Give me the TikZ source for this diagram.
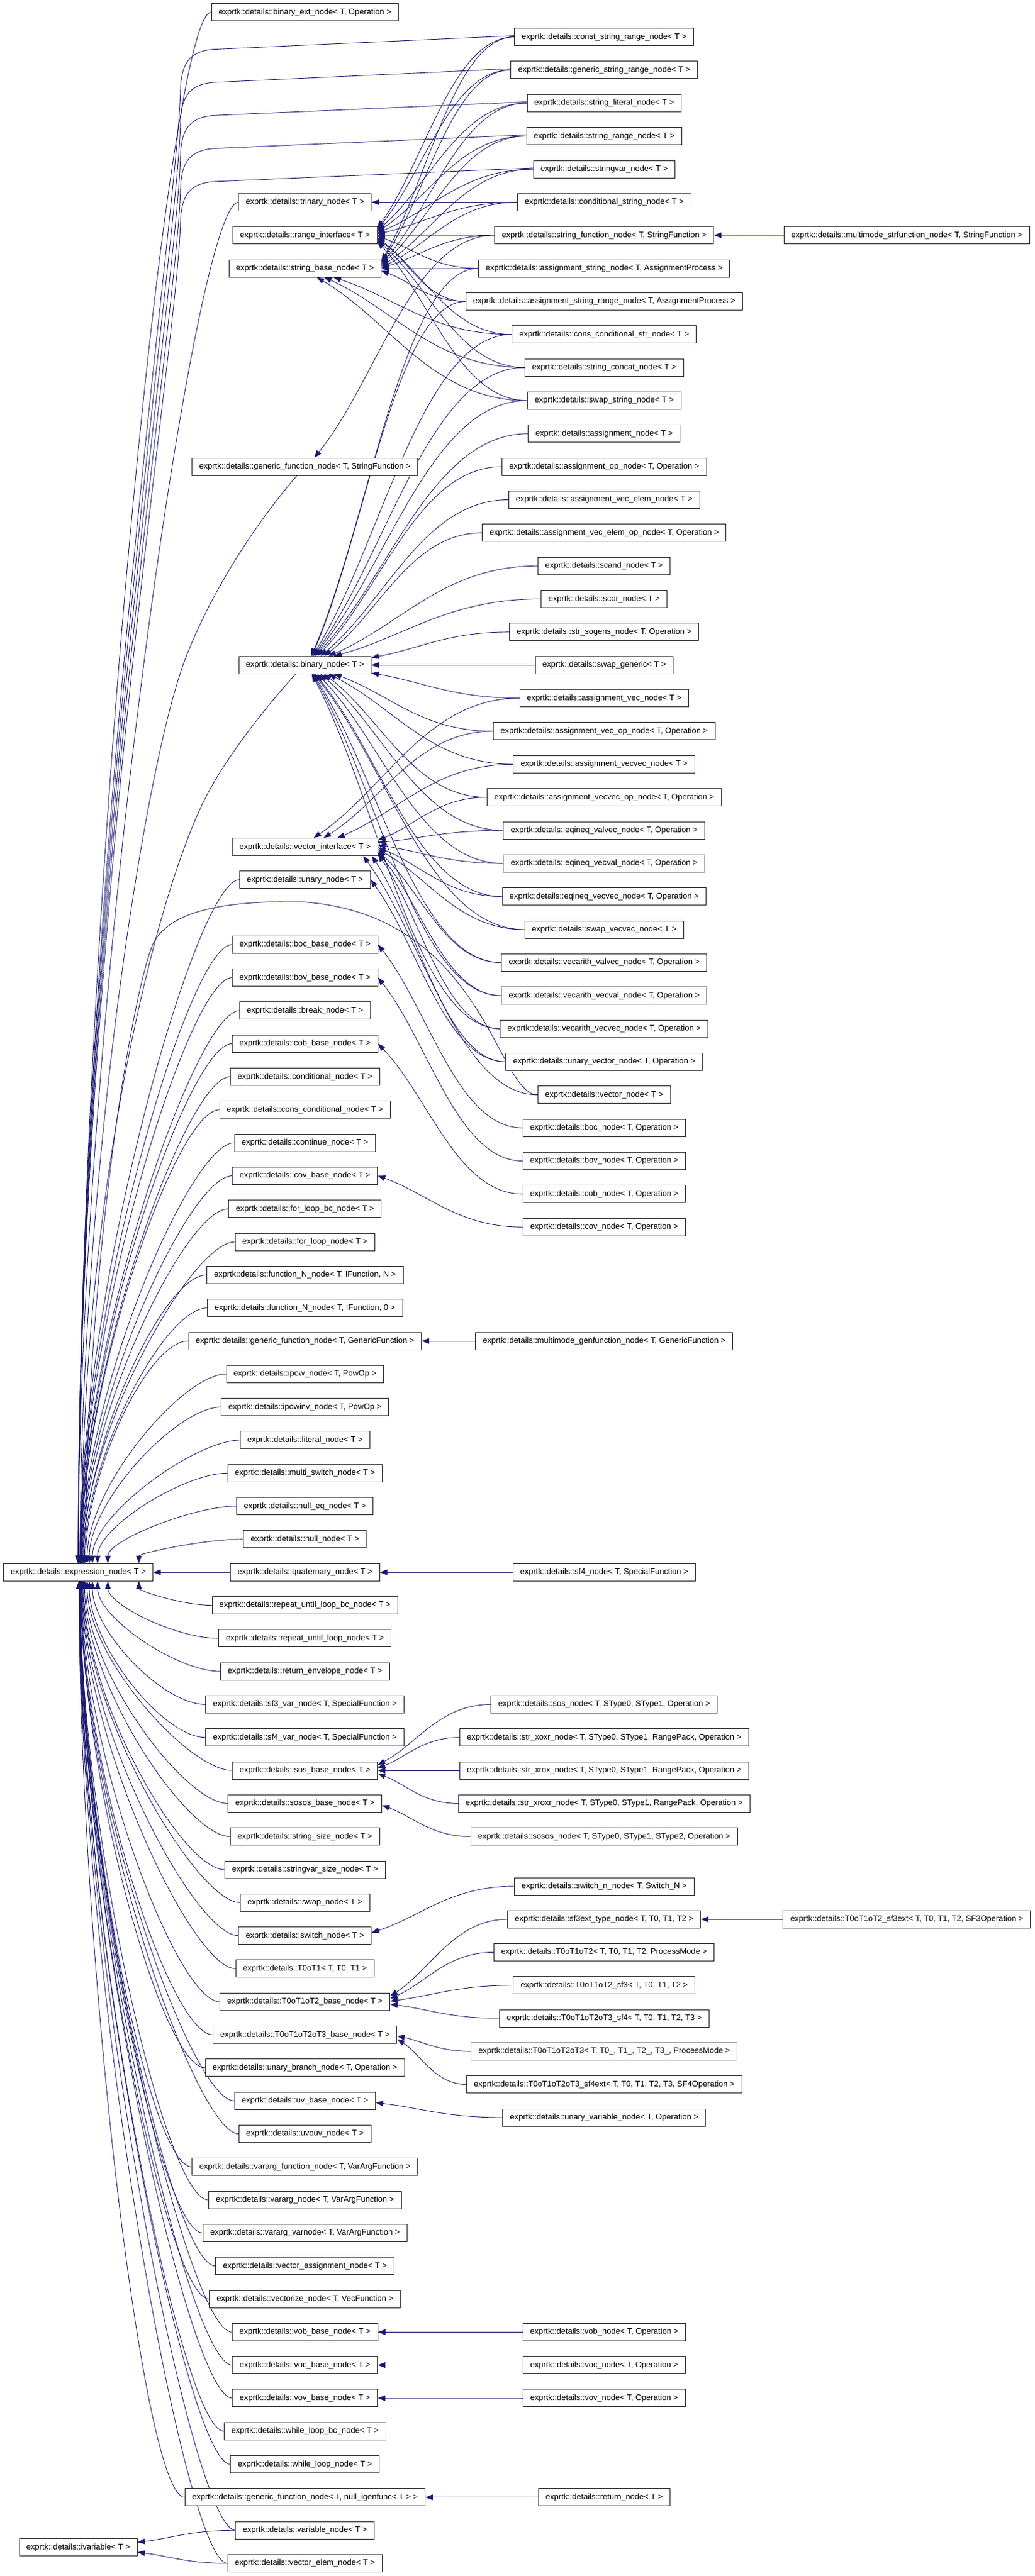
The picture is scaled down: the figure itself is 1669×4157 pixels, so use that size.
\documentclass[tikz,border=0pt]{standalone}
\usepackage{fontspec}
\newfontfamily\clsfont{Liberation Sans}
\usetikzlibrary{arrows.meta,calc}
\definecolor{edgeblue}{RGB}{25,25,112}
\pgfdeclarelayer{bg}
\pgfdeclarelayer{edges}
\pgfsetlayers{bg,edges,main}
\newcommand\clsfnt{\clsfont\fontsize{13.07pt}{15pt}\selectfont}
\tikzset{
  cls/.style={draw=black!85, line width=1pt, fill=white, rectangle, inner xsep=11.6pt, inner ysep=0pt, minimum height=28pt, text height=9.6pt, text depth=2.7pt, font=\clsfnt},
  inh/.style={draw=edgeblue, line width=0.9pt, -{Triangle[length=12pt,width=9pt]}},
}
\newcommand\Cls[4]{\node[cls] (#1) at (#2,#3) {exprtk::details::#4};}
% child -> parent coordinate
\newcommand\inhE[2]{%
 \draw[inh] let \p1=(#1.west), \p2=(#2),
   \n1={atan2(\y1-\y2,\x1-\x2)},
   \n2={veclen(\x1-\x2,\y1-\y2)},
   \n3={0.45*(\x1-\x2)}
 in (\p1) .. controls ({\x1-\n3*1pt},\y1) and ({\x2+0.35*\n2*cos(\n1)*1pt},{\y2+0.35*\n2*sin(\n1)*1pt}) .. (\p2);}
% col-2 child -> expression_node
\newcommand\inhX[1]{%
 \draw[inh] let \p1=(#1.west), \p9=(expr.center),
   \n1={\y1-\y9},
   \n2={max(abs(\n1),53.3)},
   \n3={124+100*53.3/\n2},
   \n4={\y9+sign(\n1)*14.6},
   \n5={min(70,0.4*(\x1-\n3))},
   \n6={\n4+0.4*(\y1-\n4)}
 in (\p1) .. controls ({\x1-\n5*1pt},\y1) and ({\n3*1pt},{\n6*1pt}) .. ({\n3*1pt},{\n4*1pt});}
% col-3 child -> expression_node (long way round)
\newcommand\inhF[1]{%
 \draw[inh] let \p1=($(#1.west)+(0,-2)$), \p9=(expr.center),
   \n1={\y1-\y9},
   \n3={124+100*53.3/\n1},
   \n4={\y9+14.6},
   \n6={\n4+0.45*(\y1-\n4)}
 in (\p1) -- (345pt,{\y1-22pt}) .. controls (305pt,{\y1-25pt}) and (293pt,{\y1-45pt}) .. (291pt,{\y1-85pt}) .. controls (288pt,{\y1-280pt}) and ({\n3*1pt},{\n6*1pt}) .. ({\n3*1pt},{\n4*1pt});}

\begin{document}
\begin{tikzpicture}[x=1pt,y=-1pt]
\begin{pgfonlayer}{bg}
\fill[white] (0,0) rectangle (1669,4157);
\end{pgfonlayer}
\useasboundingbox (0,0) rectangle (1669,4157);

% ---------- column 1
\Cls{expr}{126.2}{2537.2}{expression\_node< T >}
\Cls{ivar}{126.2}{4110.5}{ivariable< T >}

% ---------- column 2
\Cls{bext}{491.8}{19.7}{binary\_ext\_node< T, Operation >}
\Cls{trin}{491.8}{326.35}{trinary\_node< T >}
\Cls{rint}{491.8}{379.7}{range\_interface< T >}
\Cls{sbase}{491.8}{433.05}{string\_base\_node< T >}
\Cls{gfs}{491.8}{753.15}{generic\_function\_node< T, StringFunction >}
\Cls{bin}{491.8}{1073.25}{binary\_node< T >}
\Cls{vint}{491.8}{1366.7}{vector\_interface< T >}
\Cls{un}{491.8}{1419.7}{unary\_node< T >}
\Cls{bocb}{491.8}{1524.3}{boc\_base\_node< T >}
\Cls{bovb}{491.8}{1577.61}{bov\_base\_node< T >}
\Cls{brk}{491.8}{1630.92}{break\_node< T >}
\Cls{cobb}{491.8}{1684.23}{cob\_base\_node< T >}
\Cls{cond}{491.8}{1737.54}{conditional\_node< T >}
\Cls{ccond}{491.8}{1790.85}{cons\_conditional\_node< T >}
\Cls{cont}{491.8}{1844.16}{continue\_node< T >}
\Cls{covb}{491.8}{1897.47}{cov\_base\_node< T >}
\Cls{flbc}{491.8}{1950.78}{for\_loop\_bc\_node< T >}
\Cls{fl}{491.8}{2004.09}{for\_loop\_node< T >}
\Cls{fnN}{491.8}{2057.4}{function\_N\_node< T, IFunction, N >}
\Cls{fnO}{491.8}{2110.71}{function\_N\_node< T, IFunction, 0 >}
\Cls{gfg}{491.8}{2164.02}{generic\_function\_node< T, GenericFunction >}
\Cls{ipow}{491.8}{2217.33}{ipow\_node< T, PowOp >}
\Cls{ipinv}{491.8}{2270.64}{ipowinv\_node< T, PowOp >}
\Cls{lit}{491.8}{2323.95}{literal\_node< T >}
\Cls{msw}{491.8}{2377.26}{multi\_switch\_node< T >}
\Cls{nulleq}{491.8}{2430.57}{null\_eq\_node< T >}
\Cls{nulln}{491.8}{2483.88}{null\_node< T >}
\Cls{quat}{491.8}{2537.2}{quaternary\_node< T >}
\Cls{rulbc}{491.8}{2590.5}{repeat\_until\_loop\_bc\_node< T >}
\Cls{rul}{491.8}{2643.81}{repeat\_until\_loop\_node< T >}
\Cls{renv}{491.8}{2697.12}{return\_envelope\_node< T >}
\Cls{sfthreev}{491.8}{2750.43}{sf3\_var\_node< T, SpecialFunction >}
\Cls{sffourv}{491.8}{2803.74}{sf4\_var\_node< T, SpecialFunction >}
\Cls{sosb}{491.8}{2857.05}{sos\_base\_node< T >}
\Cls{sososb}{491.8}{2910.36}{sosos\_base\_node< T >}
\Cls{ssize}{491.8}{2963.67}{string\_size\_node< T >}
\Cls{svsize}{491.8}{3016.98}{stringvar\_size\_node< T >}
\Cls{swapn}{491.8}{3070.29}{swap\_node< T >}
\Cls{swn}{491.8}{3123.6}{switch\_node< T >}
\Cls{tA}{491.8}{3176.91}{T0oT1< T, T0, T1 >}
\Cls{tB}{491.8}{3230.22}{T0oT1oT2\_base\_node< T >}
\Cls{tC}{491.8}{3283.53}{T0oT1oT2oT3\_base\_node< T >}
\Cls{ubr}{491.8}{3336.84}{unary\_branch\_node< T, Operation >}
\Cls{uvb}{491.8}{3390.15}{uv\_base\_node< T >}
\Cls{uvouv}{491.8}{3443.46}{uvouv\_node< T >}
\Cls{vaf}{491.8}{3496.77}{vararg\_function\_node< T, VarArgFunction >}
\Cls{van}{491.8}{3550.08}{vararg\_node< T, VarArgFunction >}
\Cls{vavn}{491.8}{3603.39}{vararg\_varnode< T, VarArgFunction >}
\Cls{vasg}{491.8}{3656.7}{vector\_assignment\_node< T >}
\Cls{vecz}{491.8}{3710.01}{vectorize\_node< T, VecFunction >}
\Cls{vobb}{491.8}{3763.32}{vob\_base\_node< T >}
\Cls{vocb}{491.8}{3816.63}{voc\_base\_node< T >}
\Cls{vovb}{491.8}{3869.94}{vov\_base\_node< T >}
\Cls{wlbc}{491.8}{3923.25}{while\_loop\_bc\_node< T >}
\Cls{wl}{491.8}{3976.56}{while\_loop\_node< T >}
\Cls{gfn}{491.8}{4029.87}{generic\_function\_node< T, null\_igenfunc< T > >}
\Cls{varn}{491.8}{4083.18}{variable\_node< T >}
\Cls{vecel}{491.8}{4136.49}{vector\_elem\_node< T >}

% ---------- column 3
\Cls{csr}{974.3}{59.6}{const\_string\_range\_node< T >}
\Cls{gsr}{974.3}{112.95}{generic\_string\_range\_node< T >}
\Cls{slit}{974.3}{166.3}{string\_literal\_node< T >}
\Cls{srng}{974.3}{219.65}{string\_range\_node< T >}
\Cls{svar}{974.3}{273.0}{stringvar\_node< T >}
\Cls{cstr}{974.3}{326.35}{conditional\_string\_node< T >}
\Cls{sfn}{974.3}{379.7}{string\_function\_node< T, StringFunction >}
\Cls{asn}{974.3}{433.05}{assignment\_string\_node< T, AssignmentProcess >}
\Cls{asrn}{974.3}{486.4}{assignment\_string\_range\_node< T, AssignmentProcess >}
\Cls{ccs}{974.3}{539.75}{cons\_conditional\_str\_node< T >}
\Cls{scat}{974.3}{593.1}{string\_concat\_node< T >}
\Cls{sswap}{974.3}{646.45}{swap\_string\_node< T >}
\Cls{an}{974.3}{699.8}{assignment\_node< T >}
\Cls{aop}{974.3}{753.15}{assignment\_op\_node< T, Operation >}
\Cls{avel}{974.3}{806.5}{assignment\_vec\_elem\_node< T >}
\Cls{avelop}{974.3}{859.85}{assignment\_vec\_elem\_op\_node< T, Operation >}
\Cls{scand}{974.3}{913.2}{scand\_node< T >}
\Cls{scor}{974.3}{966.55}{scor\_node< T >}
\Cls{sogen}{974.3}{1019.9}{str\_sogens\_node< T, Operation >}
\Cls{swg}{974.3}{1073.25}{swap\_generic< T >}
\Cls{av}{974.3}{1126.6}{assignment\_vec\_node< T >}
\Cls{avop}{974.3}{1179.95}{assignment\_vec\_op\_node< T, Operation >}
\Cls{avv}{974.3}{1233.3}{assignment\_vecvec\_node< T >}
\Cls{avvop}{974.3}{1286.65}{assignment\_vecvec\_op\_node< T, Operation >}
\Cls{eqa}{974.3}{1340.0}{eqineq\_valvec\_node< T, Operation >}
\Cls{eqb}{974.3}{1393.35}{eqineq\_vecval\_node< T, Operation >}
\Cls{eqc}{974.3}{1446.7}{eqineq\_vecvec\_node< T, Operation >}
\Cls{svv}{974.3}{1500.05}{swap\_vecvec\_node< T >}
\Cls{vaa}{974.3}{1553.4}{vecarith\_valvec\_node< T, Operation >}
\Cls{vab}{974.3}{1606.75}{vecarith\_vecval\_node< T, Operation >}
\Cls{vac}{974.3}{1660.1}{vecarith\_vecvec\_node< T, Operation >}
\Cls{uvec}{974.3}{1713.45}{unary\_vector\_node< T, Operation >}
\Cls{vecn}{974.3}{1766.8}{vector\_node< T >}
\Cls{bocn}{974.3}{1820.15}{boc\_node< T, Operation >}
\Cls{bovn}{974.3}{1873.5}{bov\_node< T, Operation >}
\Cls{cobn}{974.3}{1926.85}{cob\_node< T, Operation >}
\Cls{covn}{974.3}{1980.2}{cov\_node< T, Operation >}
\Cls{mgf}{974.3}{2164.02}{multimode\_genfunction\_node< T, GenericFunction >}
\Cls{sffourn}{974.3}{2537.2}{sf4\_node< T, SpecialFunction >}
\Cls{sosn}{974.3}{2750.43}{sos\_node< T, SType0, SType1, Operation >}
\Cls{xoxr}{974.3}{2803.74}{str\_xoxr\_node< T, SType0, SType1, RangePack, Operation >}
\Cls{xrox}{974.3}{2857.05}{str\_xrox\_node< T, SType0, SType1, RangePack, Operation >}
\Cls{xroxr}{974.3}{2910.36}{str\_xroxr\_node< T, SType0, SType1, RangePack, Operation >}
\Cls{sososn}{974.3}{2963.67}{sosos\_node< T, SType0, SType1, SType2, Operation >}
\Cls{swnn}{974.3}{3044.0}{switch\_n\_node< T, Switch\_N >}
\Cls{sfthreet}{974.3}{3097.2}{sf3ext\_type\_node< T, T0, T1, T2 >}
\Cls{tAA}{974.3}{3150.4}{T0oT1oT2< T, T0, T1, T2, ProcessMode >}
\Cls{tsfthree}{974.3}{3203.7}{T0oT1oT2\_sf3< T, T0, T1, T2 >}
\Cls{tsffour}{974.3}{3257.0}{T0oT1oT2oT3\_sf4< T, T0, T1, T2, T3 >}
\Cls{tBB}{974.3}{3310.3}{T0oT1oT2oT3< T, T0\_, T1\_, T2\_, T3\_, ProcessMode >}
\Cls{tsffourx}{974.3}{3363.6}{T0oT1oT2oT3\_sf4ext< T, T0, T1, T2, T3, SF4Operation >}
\Cls{uvar}{974.3}{3417.0}{unary\_variable\_node< T, Operation >}
\Cls{vobn}{974.3}{3763.32}{vob\_node< T, Operation >}
\Cls{vocn}{974.3}{3816.63}{voc\_node< T, Operation >}
\Cls{vovn}{974.3}{3869.94}{vov\_node< T, Operation >}
\Cls{retn}{974.3}{4029.87}{return\_node< T >}

% ---------- column 4
\Cls{msf}{1462.3}{379.7}{multimode\_strfunction\_node< T, StringFunction >}
\Cls{sfthreex}{1462.3}{3097.2}{T0oT1oT2\_sf3ext< T, T0, T1, T2, SF3Operation >}

\begin{pgfonlayer}{edges}
% ---- to expression_node
\foreach \c in {bext,trin,un,bocb,bovb,brk,cobb,cond,ccond,cont,covb,flbc,fl,fnN,fnO,gfg,ipow,ipinv,lit,msw,nulleq,nulln,rulbc,rul,renv,sfthreev,sffourv,sosb,sososb,ssize,svsize,swapn,swn,tA,tB,tC,ubr,uvb,uvouv,vaf,van,vavn,vasg,vecz,vobb,vocb,vovb,wlbc,wl,gfn,varn,vecel}{\inhX{\c}}
\draw[inh] (quat.west) -- (expr.east);
\foreach \c in {csr,gsr,slit,srng,svar}{\inhF{\c}}
\draw[inh] ($(gfs.south)+(-13,0)$) .. controls (420,835) and (345,945) .. (300,1060)
  .. controls (230,1240) and ($(expr.north)+(3,-600)$) .. ($(expr.north)+(3,0)$);
\draw[inh] ($(bin.south)+(-15,0)$) .. controls (420,1150) and (360,1230) .. (330,1290)
  .. controls (250,1450) and ($(expr.north)+(5,-600)$) .. ($(expr.north)+(5,0)$);
\draw[inh] (vecn.west) .. controls (800,1766.8) and (780,1470) .. (480,1455)
  .. controls (360,1454) and (280,1470) .. (250,1517)
  .. controls (220,1564) and ($(expr.north)+(12,-500)$) .. ($(expr.north)+(12,0)$);
% ---- range_interface
\inhE{csr}{$(rint.east)+(0,-12)$}
\inhE{gsr}{$(rint.east)+(0,-10)$}
\inhE{slit}{$(rint.east)+(0,-8)$}
\inhE{srng}{$(rint.east)+(0,-6)$}
\inhE{svar}{$(rint.east)+(0,-4)$}
\inhE{cstr}{$(rint.east)+(0,-2)$}
\inhE{sfn}{rint.east}
\inhE{asn}{$(rint.east)+(0,2)$}
\inhE{asrn}{$(rint.east)+(0,4)$}
\inhE{ccs}{$(rint.east)+(0,6)$}
\inhE{scat}{$(rint.east)+(0,8)$}
\inhE{sswap}{$(rint.east)+(0,10)$}
% ---- string_base_node
\inhE{csr}{$(sbase.east)+(0,-12)$}
\inhE{gsr}{$(sbase.east)+(0,-10)$}
\inhE{slit}{$(sbase.east)+(0,-8)$}
\inhE{srng}{$(sbase.east)+(0,-6)$}
\inhE{svar}{$(sbase.east)+(0,-4)$}
\inhE{cstr}{$(sbase.east)+(0,-2)$}
\inhE{sfn}{$(sbase.east)+(0,-1)$}
\inhE{asn}{sbase.east}
\inhE{asrn}{$(sbase.east)+(0,4)$}
\inhE{ccs}{$(sbase.south)+(46,0)$}
\inhE{scat}{$(sbase.south)+(31,0)$}
\inhE{sswap}{$(sbase.south)+(19,0)$}
% ---- other string parents
\inhE{cstr}{trin.east}
\inhE{sfn}{$(gfs.north)+(15,0)$}
\inhE{msf}{sfn.east}
% ---- binary_node
\inhE{asn}{$(bin.north)+(10,0)$}
\inhE{asrn}{$(bin.north)+(11,0)$}
\inhE{ccs}{$(bin.north)+(12,0)$}
\inhE{scat}{$(bin.north)+(13,0)$}
\inhE{sswap}{$(bin.north)+(14,0)$}
\inhE{an}{$(bin.north)+(16,0)$}
\inhE{aop}{$(bin.north)+(20,0)$}
\inhE{avel}{$(bin.north)+(25,0)$}
\inhE{avelop}{$(bin.north)+(31,0)$}
\inhE{scand}{$(bin.north)+(38,0)$}
\inhE{scor}{$(bin.north)+(47,0)$}
\inhE{sogen}{$(bin.east)+(0,-12)$}
\inhE{swg}{bin.east}
\inhE{av}{$(bin.east)+(0,13)$}
\inhE{avop}{$(bin.south)+(47,0)$}
\inhE{avv}{$(bin.south)+(38,0)$}
\inhE{avvop}{$(bin.south)+(31,0)$}
\inhE{eqa}{$(bin.south)+(25,0)$}
\inhE{eqb}{$(bin.south)+(20,0)$}
\inhE{eqc}{$(bin.south)+(16,0)$}
\inhE{svv}{$(bin.south)+(14,0)$}
\inhE{vaa}{$(bin.south)+(13,0)$}
\inhE{vab}{$(bin.south)+(12,0)$}
\inhE{vac}{$(bin.south)+(11,0)$}
% ---- vector_interface
\inhE{av}{$(vint.north)+(14,0)$}
\inhE{avop}{$(vint.north)+(30,0)$}
\inhE{avv}{$(vint.north)+(52,0)$}
\inhE{avvop}{$(vint.east)+(0,-11)$}
\inhE{eqa}{$(vint.east)+(0,-7)$}
\inhE{eqb}{$(vint.east)+(0,-3)$}
\inhE{eqc}{$(vint.east)+(0,1)$}
\inhE{svv}{$(vint.east)+(0,4)$}
\inhE{vaa}{$(vint.east)+(0,7)$}
\inhE{vab}{$(vint.east)+(0,10)$}
\inhE{vac}{$(vint.east)+(0,12)$}
\inhE{uvec}{$(vint.south east)+(-10,0)$}
\inhE{vecn}{$(vint.south east)+(-24,0)$}
% ---- single parents
\inhE{uvec}{un.east}
\inhE{bocn}{bocb.east}
\inhE{bovn}{bovb.east}
\inhE{cobn}{cobb.east}
\inhE{covn}{covb.east}
\inhE{mgf}{gfg.east}
\inhE{sffourn}{quat.east}
\inhE{sosn}{$(sosb.east)+(0,-9)$}
\inhE{xoxr}{$(sosb.east)+(0,-4)$}
\inhE{xrox}{sosb.east}
\inhE{xroxr}{$(sosb.east)+(0,5)$}
\inhE{sososn}{$(sososb.east)+(0,3)$}
\inhE{swnn}{$(swn.east)+(0,-5)$}
\inhE{sfthreet}{$(tB.east)+(0,-9)$}
\inhE{tAA}{$(tB.east)+(0,-5)$}
\inhE{tsfthree}{$(tB.east)+(0,-1)$}
\inhE{tsffour}{$(tB.east)+(0,4)$}
\inhE{tBB}{$(tC.east)+(0,2)$}
\inhE{tsffourx}{$(tC.east)+(0,7)$}
\inhE{sfthreex}{sfthreet.east}
\inhE{uvar}{$(uvb.east)+(0,3)$}
\inhE{vobn}{vobb.east}
\inhE{vocn}{vocb.east}
\inhE{vovn}{vovb.east}
\inhE{retn}{gfn.east}
\inhE{varn}{$(ivar.east)+(0,-8)$}
\inhE{vecel}{$(ivar.east)+(0,8)$}
\end{pgfonlayer}
\end{tikzpicture}
\end{document}
